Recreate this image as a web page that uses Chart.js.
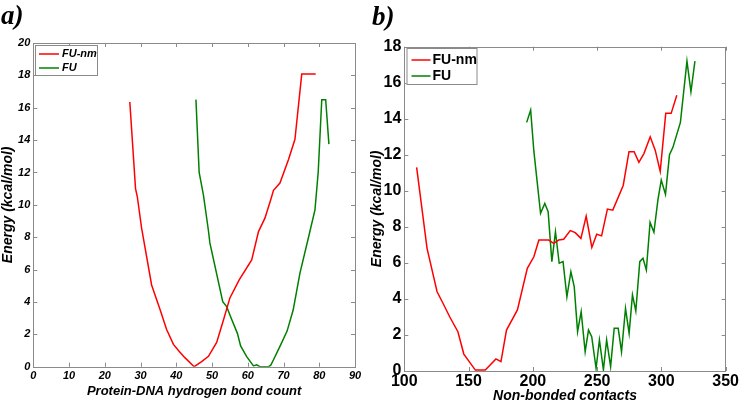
<!DOCTYPE html>
<html>
<head>
<meta charset="utf-8">
<script src="https://cdn.jsdelivr.net/npm/chart.js@4.4.1/dist/chart.umd.min.js"></script>
<style>
  html, body { margin:0; padding:0; background:#fff; }
  #wrap { position:relative; width:740px; height:403px; overflow:hidden; background:#fff; }
  canvas { position:absolute; top:0; }
  .ptitle { position:absolute; font-family:"Liberation Serif", serif; font-weight:bold; font-style:italic; font-size:27px; line-height:27px; color:#000; }
</style>
</head>
<body>
<div id="wrap">
  <canvas id="ca" width="370" height="403" style="left:0;width:370px;height:403px"></canvas>
  <canvas id="cb" width="370" height="403" style="left:370px;width:370px;height:403px"></canvas>
  <div class="ptitle" style="left:1px;top:2px">a)</div>
  <div class="ptitle" style="left:372px;top:3px">b)</div>
</div>
<script>
// ---------- Panel a: Protein-DNA hydrogen bond count ----------
const seriesNames = ["FU-nm", "FU"];
const aHbondFUnm  = [27, 28.6, 29.1, 30.3, 33.1, 35.5, 37.3, 39.2, 40.9, 42.4, 45, 47.1, 49, 51.3, 53.2, 55, 57.6, 61.1, 63, 64.8, 66.4, 67.2, 69, 71.4, 73.2, 75.1, 79];
const aEnergyFUnm = [16.35, 11.0, 10.5, 8.56, 5.05, 3.5, 2.3, 1.38, 0.93, 0.56, 0, 0.31, 0.64, 1.5, 2.89, 4.25, 5.36, 6.6, 8.35, 9.18, 10.3, 10.9, 11.35, 12.8, 14.05, 18.08, 18.08];
const aHbondFU    = [45.5, 46.4, 47.6, 49, 49.4, 53, 54.1, 55, 57.1, 58, 59.7, 61.6, 62.5, 63.4, 65.8, 66.4, 67.2, 69, 71, 72.7, 74.6, 77, 78.8, 79.7, 80.7, 81.8, 82.7];
const aEnergyFU   = [16.5, 12.0, 10.6, 8.4, 7.65, 4.02, 3.71, 3.2, 2.06, 1.28, 0.62, 0.05, 0.12, 0, 0, 0.08, 0.43, 1.26, 2.2, 3.5, 5.78, 8.0, 9.69, 12.0, 16.5, 16.5, 13.75];
const aXTicks = [0, 10, 20, 30, 40, 50, 60, 70, 80, 90];
const aYTicks = [0, 2, 4, 6, 8, 10, 12, 14, 16, 18, 20];

// ---------- Panel b: Non-bonded contacts ----------
const bContactsFUnm = [109.6, 117.7, 125.5, 130.1, 135.3, 141.7, 146.3, 155.3, 163, 171.3, 175.2, 179.5, 188, 195.7, 200.8, 204.7, 212.4, 216.2, 220.1, 224, 229.1, 233, 237.4, 241.5, 245.9, 249.7, 253.5, 258, 262.2, 270.3, 274.8, 278.8, 282.5, 286.5, 291.3, 295.2, 299.1, 303.4, 307.6, 312];
const bEnergyFUnm   = [11.3, 6.81, 4.4, 3.76, 3.01, 2.18, 0.94, 0.05, 0.05, 0.67, 0.52, 2.27, 3.39, 5.7, 6.34, 7.27, 7.27, 7.09, 7.27, 7.31, 7.79, 7.68, 7.36, 8.6, 6.86, 7.59, 7.5, 8.99, 8.93, 10.3, 12.17, 12.17, 11.58, 12.08, 13.0, 12.26, 11.08, 14.3, 14.3, 15.3];
const bContactsFU   = [195.2, 198.3, 200.8, 206, 209.3, 211.9, 214.8, 217.6, 220.5, 223.5, 226.5, 229.6, 232.2, 234.8, 237.6, 240.7, 243.3, 245.8, 249.2, 251.8, 254.9, 257.4, 260.5, 263.3, 266.4, 269, 272.1, 274.9, 277.5, 280.1, 283.2, 285.7, 288.3, 291.2, 294.2, 297.3, 299.9, 303.2, 306.3, 308.9, 314.8, 319.9, 323, 326.1];
const bEnergyFU     = [13.8, 14.48, 12.2, 8.75, 9.3, 8.84, 6.07, 7.73, 5.98, 6.07, 4.12, 5.51, 4.68, 2.18, 3.29, 1.07, 2.27, 1.9, 0.15, 1.72, 0.06, 1.72, 0.24, 2.37, 2.37, 1.07, 3.48, 2.09, 4.22, 3.33, 6.07, 6.26, 5.6, 8.25, 7.7, 9.5, 10.6, 9.8, 12.0, 12.4, 13.8, 17.2, 15.5, 17.2];
const bXTicks = [100, 150, 200, 250, 300, 350];
const bYTicks = [0, 2, 4, 6, 8, 10, 12, 14, 16, 18];

const RED = "#ff0000";
const GREEN = "#008000";
const FRAME = "#8a8a8a";
const FONT = "'Liberation Sans', Arial, sans-serif";

function pts(xs, ys) { return xs.map((x, i) => ({ x: x, y: ys[i] })); }

// Frame with inward ticks on all four sides (MATLAB box)
const framePlugin = {
  id: "frameTicks",
  afterDraw(chart) {
    const { ctx, chartArea: a, scales } = chart;
    const L = 4;
    ctx.save();
    ctx.strokeStyle = FRAME;
    ctx.lineWidth = 1;
    ctx.strokeRect(Math.round(a.left) + 0.5, Math.round(a.top) + 0.5, Math.round(a.right - a.left), Math.round(a.bottom - a.top));
    ctx.beginPath();
    scales.x.ticks.forEach(t => {
      const px = Math.round(scales.x.getPixelForValue(t.value)) + 0.5;
      ctx.moveTo(px, a.bottom); ctx.lineTo(px, a.bottom - L);
      ctx.moveTo(px, a.top); ctx.lineTo(px, a.top + L);
    });
    scales.y.ticks.forEach(t => {
      const py = Math.round(scales.y.getPixelForValue(t.value)) + 0.5;
      ctx.moveTo(a.left, py); ctx.lineTo(a.left + L, py);
      ctx.moveTo(a.right, py); ctx.lineTo(a.right - L, py);
    });
    ctx.stroke();
    ctx.restore();
  }
};

// Legend box inside the plot
const boxLegendPlugin = {
  id: "boxLegend",
  afterDraw(chart, args, o) {
    const ctx = chart.ctx;
    ctx.save();
    ctx.fillStyle = "#fff";
    ctx.fillRect(o.x, o.y, o.w, o.h);
    ctx.strokeStyle = FRAME;
    ctx.lineWidth = 1;
    ctx.strokeRect(o.x + 0.5, o.y + 0.5, o.w, o.h);
    ctx.font = o.font;
    ctx.textBaseline = "middle";
    ctx.textAlign = "left";
    chart.data.datasets.forEach((ds, i) => {
      const yy = o.y + o.rows[i];
      ctx.strokeStyle = ds.borderColor;
      ctx.lineWidth = 1.5;
      ctx.beginPath();
      ctx.moveTo(o.x + o.l1, yy); ctx.lineTo(o.x + o.l2, yy);
      ctx.stroke();
      ctx.fillStyle = "#000";
      ctx.fillText(ds.label, o.x + o.tx, yy);
    });
    ctx.restore();
  }
};

function makeChart(id, cfg) {
  return new Chart(document.getElementById(id), {
    type: "scatter",
    data: {
      datasets: [
        { label: seriesNames[0], data: pts(cfg.x1, cfg.y1), borderColor: RED, backgroundColor: RED, showLine: true, pointRadius: 0, borderWidth: 1.5, tension: 0 },
        { label: seriesNames[1], data: pts(cfg.x2, cfg.y2), borderColor: GREEN, backgroundColor: GREEN, showLine: true, pointRadius: 0, borderWidth: 1.5, tension: 0 }
      ]
    },
    options: {
      responsive: false,
      devicePixelRatio: 1,
      animation: false,
      layout: { padding: cfg.padding },
      plugins: {
        legend: { display: false },
        tooltip: { enabled: false },
        boxLegend: cfg.legend
      },
      scales: {
        x: {
          type: "linear",
          min: cfg.xTicks[0], max: cfg.xTicks[cfg.xTicks.length - 1],
          afterBuildTicks: s => { s.ticks = cfg.xTicks.map(v => ({ value: v })); },
          afterFit: s => { s.height = cfg.xH; },
          grid: { display: false, drawTicks: false },
          border: { display: false },
          ticks: { autoSkip: false, maxRotation: 0, padding: cfg.xTickPad, color: "#000", font: cfg.tickFont },
          title: { display: true, text: cfg.xTitle, color: "#000", font: cfg.xTitleFont, padding: cfg.xTitlePad }
        },
        y: {
          type: "linear",
          min: cfg.yTicks[0], max: cfg.yTicks[cfg.yTicks.length - 1],
          afterBuildTicks: s => { s.ticks = cfg.yTicks.map(v => ({ value: v })); },
          afterFit: s => { s.width = cfg.yW; },
          grid: { display: false, drawTicks: false },
          border: { display: false },
          ticks: { autoSkip: false, padding: cfg.yTickPad, color: "#000", font: cfg.tickFont },
          title: { display: true, text: "Energy (kcal/mol)", color: "#000", font: cfg.yTitleFont, padding: { top: 0, bottom: 0 } }
        }
      }
    },
    plugins: [framePlugin, boxLegendPlugin]
  });
}

makeChart("ca", {
  x1: aHbondFUnm, y1: aEnergyFUnm, x2: aHbondFU, y2: aEnergyFU,
  xTicks: aXTicks, yTicks: aYTicks,
  padding: { left: 0, right: 15, top: 43, bottom: 0 },
  xH: 36.3, yW: 33.3,
  xTickPad: 3, yTickPad: 3,
  xTitle: "Protein-DNA hydrogen bond count",
  xTitlePad: { top: 0, bottom: 4 },
  tickFont: { family: FONT, size: 11, weight: "bold", style: "italic" },
  xTitleFont: { family: FONT, size: 13, weight: "bold", style: "italic", lineHeight: 1.1 },
  yTitleFont: { family: FONT, size: 14, weight: "bold", style: "italic", lineHeight: 1.1 },
  legend: { x: 35, y: 45, w: 62, h: 30, rows: [9, 23], l1: 4, l2: 24, tx: 27, font: "italic bold 11px " + FONT }
});

makeChart("cb", {
  x1: bContactsFUnm, y1: bEnergyFUnm, x2: bContactsFU, y2: bEnergyFU,
  xTicks: bXTicks, yTicks: bYTicks,
  padding: { left: 0, right: 11.7, top: 46.7, bottom: 0 },
  xH: 32, yW: 34.3,
  xTickPad: 1, yTickPad: 3,
  xTitle: "Non-bonded contacts",
  xTitlePad: { top: 0, bottom: 0 },
  tickFont: { family: FONT, size: 16, weight: "bold" },
  xTitleFont: { family: FONT, size: 14, weight: "bold", style: "italic", lineHeight: 1.0 },
  yTitleFont: { family: FONT, size: 14, weight: "bold", style: "italic", lineHeight: 1.0 },
  legend: { x: 36.5, y: 48, w: 70, h: 36, rows: [12, 28], l1: 5, l2: 24, tx: 26, font: "bold 14px " + FONT }
});
</script>
</body>
</html>
